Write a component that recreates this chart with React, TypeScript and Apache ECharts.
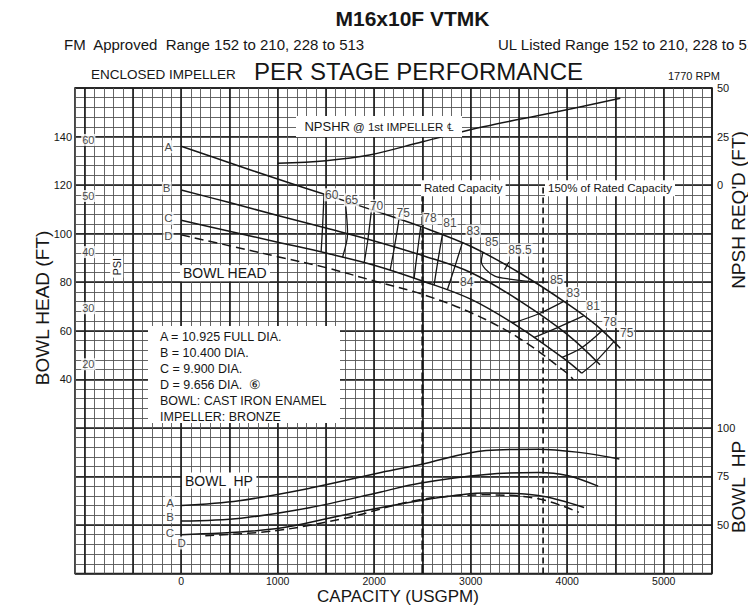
import React, { useEffect, useRef } from "react";
import * as echarts from "echarts";

// ---------------- data ----------------
const capacityTicks = [0, 1000, 2000, 3000, 4000, 5000];
const headTicks = [40, 60, 80, 100, 120, 140];
const npshTicks = [0, 25, 50];
const hpTicks = [50, 75, 100];
const psiTicks = [60, 50, 40, 30, 20];
const FT_PER_PSI = 2.31;

// bowl head (ft) vs capacity (USGPM)
const headA = [[0, 136], [500, 129.2], [1000, 122.5], [1500, 116], [2000, 109.5], [2500, 102.7], [3000, 94.8], [3500, 84], [4000, 71.2], [4300, 62.3], [4550, 52.8]];
const headB = [[0, 118], [500, 112.8], [1000, 107.5], [1500, 102.3], [2000, 97], [2500, 91], [3000, 84], [3500, 72.5], [4000, 58.5], [4340, 46]];
const headC = [[0, 105.5], [500, 101], [1000, 96.5], [1500, 92], [2000, 87], [2500, 80.5], [3000, 73], [3500, 61.5], [4000, 47.5], [4150, 42.5]];
const headD = [[0, 99.5], [500, 95], [1000, 90.5], [1500, 86], [2000, 80.5], [2500, 75], [3000, 67.5], [3500, 57], [4000, 42.5], [4060, 40]];

// NPSHR (ft)
const npshr = [[1000, 11.2], [1500, 12.6], [1950, 15.5], [2500, 22.3], [3130, 30], [3820, 37], [4550, 44.7]];

// bowl HP
const hpA = [[0, 60], [600, 62.5], [1340, 69], [2070, 77], [2470, 81], [3160, 88.3], [3700, 89], [4100, 87.5], [4540, 84]];
const hpB = [[0, 52], [620, 53.5], [1340, 59], [2070, 67], [2470, 71.5], [3160, 76], [3700, 77], [4000, 75.5], [4320, 70]];
const hpC = [[0, 45], [975, 48], [1700, 55.3], [2470, 62.5], [3160, 66.5], [3700, 65.2], [4175, 59]];
const hpD = [[250, 44.5], [975, 47], [1700, 53.5], [2470, 63], [3160, 65.5], [3700, 63.5], [4120, 56.5]];

// iso-efficiency lines (capacity, head)
const eff60 = [[1480, 116.3], [1465, 102.7], [1450, 92.5]];
const eff65 = [[1700, 113.4], [1724, 100], [1672, 90.3]];
const eff70 = [[1972, 109.9], [1935, 97.7], [1896, 88]];
const eff75 = [[2257, 106], [2210, 94.5], [2165, 84.9]];
const eff78 = [[2482, 102.9], [2445, 91.7], [2413, 81.6]];
const eff81 = [[2706, 99.5], [2660, 88.8], [2620, 78.7]];
const eff83 = [[2913, 96.2], [2835, 86.3], [2758, 76.9]];
const eff85Loop = [[3125, 92.1], [3110, 88.5], [3150, 85.5], [3250, 82.5], [3400, 81.3], [3650, 80.2]];
const eff83R = [[3964, 72.1], [3700, 66.9], [3430, 63.1]];
const eff81R = [[4170, 66.1], [3900, 61.3], [3654, 57.2]];
const eff78R = [[4361, 60], [4150, 53], [3947, 49]];
const eff75R = [[4481, 55.4], [4300, 47.5], [4150, 42.5]];
const bepTick = [[3396, 88.3], [3350, 85.1]];

// efficiency labels: capacity, head, text
const effLabels: [number, number, string][] = [
  [1559, 116.0, "60"], [1766, 113.9, "65"], [2025, 111.4, "70"], [2301, 108.4, "75"],
  [2578, 106.3, "78"], [2785, 104.3, "81"], [3026, 101.1, "83"], [3217, 96.7, "85"],
  [3511, 93.3, "85.5"], [3890, 80.9, "85"], [4062, 75.4, "83"], [4270, 70.0, "81"],
  [4443, 63.8, "78"], [4616, 59.0, "75"], [2958, 80.2, "84"],
];
const headCurveLabels: [number, number, string][] = [[-132, 135.8, "A"], [-150, 118.7, "B"], [-132, 106.3, "C"], [-132, 99.2, "D"]];
const hpCurveLabels: [number, number, string][] = [[-116, 61.5, "A"], [-116, 54.3, "B"], [-116, 45.7, "C"], [5, 40.7, "D"]];

const ratedCapacity = 2500;
const ratedCapacity150 = 3750;

// ---------------- layout ----------------
const W = 748, H = 605;
const GL = 75, GR = 36, GT = 88, GB = 31.5;
const X_MIN = -1100, X_MAX = 5500;
const HEAD_MIN = -40, HEAD_MAX = 160;
const PSI_LABEL_X = -962;
const FONT = '"Liberation Sans", Arial, Helvetica, sans-serif';
const INK = "#161616";
const MINOR = "#555555";
const MAJOR = "#1a1a1a";

export default function App() {
  const ref = useRef<HTMLDivElement>(null);
  useEffect(() => {
    if (!ref.current) return;
    const chart = echarts.init(ref.current, undefined, { renderer: "svg" });
    const plotW = W - GL - GR;
    const majorLeft = GL + (plotW * (-1000 - X_MIN)) / (X_MAX - X_MIN);

    const line = (data: number[][], yAxisIndex: number, width: number, type: any = "solid", smooth: number = 0.35, z = 4) => ({
      type: "line", xAxisIndex: 0, yAxisIndex, data, showSymbol: false, symbol: "none", smooth, silent: true, z,
      lineStyle: { color: INK, width, type },
    });
    const labels = (arr: [number, number, string][], yAxisIndex: number, fontSize: number, pad: number[] = [1, 1, 0, 1]) => ({
      type: "scatter", xAxisIndex: 0, yAxisIndex, symbolSize: 1, itemStyle: { color: "rgba(0,0,0,0)" }, z: 10, silent: true,
      data: arr.map(([x, y, t]) => ({ value: [x, y], name: t })),
      label: { show: true, position: "inside", formatter: "{b}", color: INK, fontSize, fontFamily: FONT, backgroundColor: "#fff", padding: pad },
    });

    const contours = [eff60, eff65, eff70, eff75, eff78, eff81, eff83, eff85Loop, eff83R, eff81R, eff78R, eff75R, bepTick];
    const psiLabels: [number, number, string][] = psiTicks.map((p) => [PSI_LABEL_X, p * FT_PER_PSI, String(p)]);

    const txt = (x: number, y: number, text: string, font: string, align = "left", extra: any = {}) => ({
      type: "text", x, y, z: 20, silent: true,
      style: { text, font, fill: INK, align, verticalAlign: "middle", textAlign: align, textVerticalAlign: "middle", ...extra },
    });
    const vtxt = (x: number, y: number, text: string, font: string, extra: any = {}) => ({
      ...txt(0, 0, text, font, "center", extra), x, y, rotation: Math.PI / 2,
    });

    chart.setOption({
      animation: false,
      backgroundColor: "#fff",
      grid: [
        { left: GL, right: GR, top: GT, bottom: GB, show: true, borderColor: MAJOR, borderWidth: 1.6, backgroundColor: "transparent" },
        { left: majorLeft, right: GR, top: GT, bottom: GB, show: false },
      ],
      xAxis: [
        {
          type: "value", gridIndex: 0, min: X_MIN, max: X_MAX, interval: 100,
          axisLine: { show: false }, axisTick: { show: false },
          splitLine: { show: true, lineStyle: { color: MINOR, width: 0.9 } },
          axisLabel: {
            interval: 0, margin: 2, color: INK, fontSize: 10.5, fontFamily: FONT,
            formatter: (v: number) => (capacityTicks.includes(Math.round(v)) ? String(Math.round(v)) : ""),
          },
        },
        {
          type: "value", gridIndex: 1, min: -1000, max: X_MAX, interval: 500,
          axisLine: { show: false }, axisTick: { show: false }, axisLabel: { show: false },
          splitLine: { show: true, lineStyle: { color: MAJOR, width: 1.6 } },
        },
      ],
      yAxis: [
        {
          type: "value", gridIndex: 0, min: HEAD_MIN, max: HEAD_MAX, interval: 4, position: "left",
          axisLine: { show: false }, axisTick: { show: false },
          splitLine: { show: true, lineStyle: { color: MINOR, width: 0.9 } },
          axisLabel: {
            interval: 0, margin: 3, color: INK, fontSize: 11, fontFamily: FONT,
            formatter: (v: number) => (headTicks.includes(Math.round(v)) ? String(Math.round(v)) : ""),
          },
        },
        {
          type: "value", gridIndex: 0, min: -200, max: 50, interval: 25, position: "right",
          axisLine: { show: false }, axisTick: { show: false }, splitLine: { show: false },
          axisLabel: {
            interval: 0, margin: 5, color: INK, fontSize: 11, fontFamily: FONT,
            formatter: (v: number) => (npshTicks.includes(Math.round(v)) ? String(Math.round(v)) : ""),
          },
        },
        {
          type: "value", gridIndex: 0, min: 25, max: 275, interval: 25, position: "right",
          axisLine: { show: false }, axisTick: { show: false }, splitLine: { show: false },
          axisLabel: {
            interval: 0, margin: 5, color: INK, fontSize: 11, fontFamily: FONT,
            formatter: (v: number) => (hpTicks.includes(Math.round(v)) ? String(Math.round(v)) : ""),
          },
        },
        {
          type: "value", gridIndex: 0, min: HEAD_MIN, max: HEAD_MAX, interval: 20, position: "left",
          axisLine: { show: false }, axisTick: { show: false }, axisLabel: { show: false },
          splitLine: { show: true, lineStyle: { color: MAJOR, width: 1.6 } },
        },
        { type: "value", gridIndex: 1, min: HEAD_MIN, max: HEAD_MAX, show: false },
      ],
      series: [
        line(headA, 0, 1.5),
        line(headB, 0, 1.5),
        line(headC, 0, 1.5),
        line(headD, 0, 1.5, [9, 5]),
        ...contours.map((c) => line(c, 0, 1.3, "solid", 0.3)),
        line(npshr, 1, 1.5),
        line(hpA, 2, 1.5),
        line(hpB, 2, 1.5),
        line(hpC, 2, 1.5),
        line(hpD, 2, 1.5, [9, 5]),
        line([[ratedCapacity, HEAD_MIN], [ratedCapacity, 120]], 0, 2.2, [9, 3], 0, 5),
        line([[ratedCapacity150, HEAD_MIN], [ratedCapacity150, 120.5]], 0, 1.7, [6, 4], 0, 5),
        labels(effLabels, 0, 12),
        labels(headCurveLabels, 0, 11.5),
        labels(psiLabels, 0, 11),
        labels(hpCurveLabels, 2, 11.5),
      ],
      graphic: [
        txt(412.5, 18, "M16x10F VTMK", `bold 21px ${FONT}`, "center"),
        txt(64, 44, "FM  Approved  Range 152 to 210, 228 to 513", `15px ${FONT}`),
        txt(498, 44, "UL Listed Range 152 to 210, 228 to 513", `15px ${FONT}`),
        txt(91, 74, "ENCLOSED IMPELLER", `13.5px ${FONT}`),
        txt(418.5, 71, "PER STAGE PERFORMANCE", `24px ${FONT}`, "center"),
        txt(668, 76, "1770 RPM", `11px ${FONT}`),
        vtxt(42.7, 308, "BOWL HEAD (FT)", `19px ${FONT}`),
        vtxt(738, 210, "NPSH REQ'D (FT)", `19px ${FONT}`),
        vtxt(738, 487, "BOWL  HP", `19px ${FONT}`),
        txt(398, 596.5, "CAPACITY (USGPM)", `17px ${FONT}`, "center"),
        txt(82, 611, "PUMP DATA", `bold 14px ${FONT}`),
        vtxt(116.7, 266.7, "PSI", `11px ${FONT}`, { backgroundColor: "#fff", padding: [1, 2] }),
        txt(180, 273.3, "BOWL HEAD", `14px ${FONT}`, "left", { backgroundColor: "#fff", padding: [1, 3] }),
        txt(182, 480.5, "BOWL  HP", `14px ${FONT}`, "left", { backgroundColor: "#fff", padding: [1, 3] }),
        txt(463.3, 188.3, "Rated Capacity", `11.5px ${FONT}`, "center", { backgroundColor: "#fff", padding: [2, 3] }),
        txt(610, 188.3, "150% of Rated Capacity", `11.5px ${FONT}`, "center", { backgroundColor: "#fff", padding: [2, 3] }),
        { type: "rect", z: 19, silent: true, shape: { x: 296, y: 116, width: 166, height: 21 }, style: { fill: "#fff" } },
        {
          type: "text", x: 379, y: 126.5, z: 20, silent: true,
          style: {
            text: "{a|NPSHR} {b|@ 1st IMPELLER ℄}", align: "center", verticalAlign: "middle", textAlign: "center", textVerticalAlign: "middle",
            fill: INK, font: `11px ${FONT}`,
            rich: { a: { fontSize: 13, fontFamily: FONT, fill: INK, color: INK }, b: { fontSize: 11.5, fontFamily: FONT, fill: INK, color: INK } },
          },
        },
        { type: "rect", z: 19, silent: true, shape: { x: 148, y: 326, width: 192, height: 97 }, style: { fill: "#fff" } },
        txt(160, 337, "A = 10.925 FULL DIA.", `12.5px ${FONT}`),
        txt(160, 353, "B = 10.400 DIA.", `12.5px ${FONT}`),
        txt(160, 369, "C = 9.900 DIA.", `12.5px ${FONT}`),
        txt(160, 385, "D = 9.656 DIA.  ⑥", `12.5px ${FONT}`),
        txt(160, 401, "BOWL: CAST IRON ENAMEL", `12.5px ${FONT}`),
        txt(160, 417, "IMPELLER: BRONZE", `12.5px ${FONT}`),
      ],
    });
    return () => chart.dispose();
  }, []);
  return <div ref={ref} style={{ position: "absolute", left: 0, top: 0, width: W, height: H }} />;
}
